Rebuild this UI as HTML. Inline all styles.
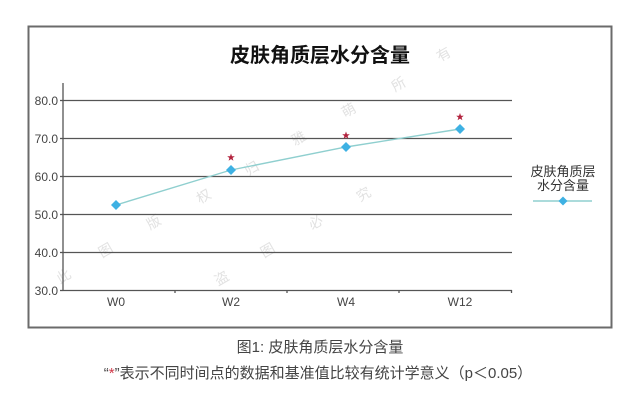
<!DOCTYPE html>
<html><head><meta charset="utf-8"><style>
html,body{margin:0;padding:0;background:#fff;}
body{width:640px;height:400px;overflow:hidden;}
svg{display:block;}
text{font-family:"Liberation Sans","Noto Sans CJK SC",sans-serif;}
</style></head><body>
<svg width="640" height="400" viewBox="0 0 640 400" xmlns="http://www.w3.org/2000/svg">
<defs>
<polygon id="st" points="0,-4 1,-1.3 3.8,-1.2 1.6,0.5 2.4,3.2 0,1.6 -2.4,3.2 -1.6,0.5 -3.8,-1.2 -1,-1.3" fill="#b3243f"/>
</defs>
<rect x="0" y="0" width="640" height="400" fill="#fff"/>
<rect x="28.5" y="26.5" width="583" height="301" fill="none" stroke="#6b6b6b" stroke-width="2"/>
<text x="320" y="62" font-size="20" font-weight="bold" text-anchor="middle" fill="#111">皮肤角质层水分含量</text>
<g fill="#e2e2e2" font-size="14">
<text x="440" y="62" transform="rotate(-30 440 62)">有</text>
<text x="395" y="92" transform="rotate(-30 395 92)">所</text>
<text x="345" y="118" transform="rotate(-30 345 118)">萌</text>
<text x="295" y="146" transform="rotate(-30 295 146)">雅</text>
<text x="248" y="176" transform="rotate(-30 248 176)">归</text>
<text x="200" y="204" transform="rotate(-30 200 204)">权</text>
<text x="150" y="230" transform="rotate(-30 150 230)">版</text>
<text x="102" y="258" transform="rotate(-30 102 258)">图</text>
<text x="60" y="284" transform="rotate(-30 60 284)">此</text>
<text x="360" y="202" transform="rotate(-30 360 202)">究</text>
<text x="312" y="230" transform="rotate(-30 312 230)">必</text>
<text x="264" y="258" transform="rotate(-30 264 258)">图</text>
<text x="218" y="286" transform="rotate(-30 218 286)">盗</text>
</g>
<g stroke="#555" stroke-width="1.3">
<line x1="63" y1="100.5" x2="512" y2="100.5"/>
<line x1="63" y1="138.5" x2="512" y2="138.5"/>
<line x1="63" y1="176.5" x2="512" y2="176.5"/>
<line x1="63" y1="214.5" x2="512" y2="214.5"/>
<line x1="63" y1="252.5" x2="512" y2="252.5"/>
<line x1="63" y1="290.5" x2="512" y2="290.5"/>
<line x1="63" y1="83" x2="63" y2="291"/>
<line x1="60" y1="100.5" x2="63" y2="100.5"/>
<line x1="60" y1="138.5" x2="63" y2="138.5"/>
<line x1="60" y1="176.5" x2="63" y2="176.5"/>
<line x1="60" y1="214.5" x2="63" y2="214.5"/>
<line x1="60" y1="252.5" x2="63" y2="252.5"/>
<line x1="60" y1="290.5" x2="63" y2="290.5"/>
<line x1="175" y1="290" x2="175" y2="293"/>
<line x1="287" y1="290" x2="287" y2="293"/>
<line x1="399" y1="290" x2="399" y2="293"/>
<line x1="511.5" y1="290" x2="511.5" y2="293"/>
</g>
<g font-size="12" fill="#444" text-anchor="end">
<text x="58" y="105">80.0</text>
<text x="58" y="143">70.0</text>
<text x="58" y="181">60.0</text>
<text x="58" y="219">50.0</text>
<text x="58" y="257">40.0</text>
<text x="58" y="295">30.0</text>
</g>
<g font-size="12" fill="#444" text-anchor="middle">
<text x="116" y="306">W0</text>
<text x="231" y="306">W2</text>
<text x="346" y="306">W4</text>
<text x="460" y="306">W12</text>
</g>
<polyline points="116,205 231,170 346,147 460,129" fill="none" stroke="#8fcfcf" stroke-width="1.4"/>
<g fill="#3eb1e3">
<polygon points="116,200 121,205 116,210 111,205"/>
<polygon points="231,165 236,170 231,175 226,170"/>
<polygon points="346,142 351,147 346,152 341,147"/>
<polygon points="460,124 465,129 460,134 455,129"/>
</g>
<use href="#st" x="231" y="157.5"/>
<use href="#st" x="346" y="135.5"/>
<use href="#st" x="460" y="117"/>
<g font-size="13" fill="#333" text-anchor="middle">
<text x="563" y="176">皮肤角质层</text>
<text x="563" y="190">水分含量</text>
</g>
<line x1="533" y1="201" x2="592" y2="201" stroke="#8fcfcf" stroke-width="1.4"/>
<polygon points="563,196.5 567.5,201 563,205.5 558.5,201" fill="#3eb1e3"/>
<text x="320" y="352" font-size="15" fill="#444" text-anchor="middle">图1: 皮肤角质层水分含量</text>
<text x="318" y="378" font-size="15" fill="#444" text-anchor="middle">“<tspan fill="#d03a4a">*</tspan>”表示不同时间点的数据和基准值比较有统计学意义（p＜0.05）</text>
</svg>
</body></html>
